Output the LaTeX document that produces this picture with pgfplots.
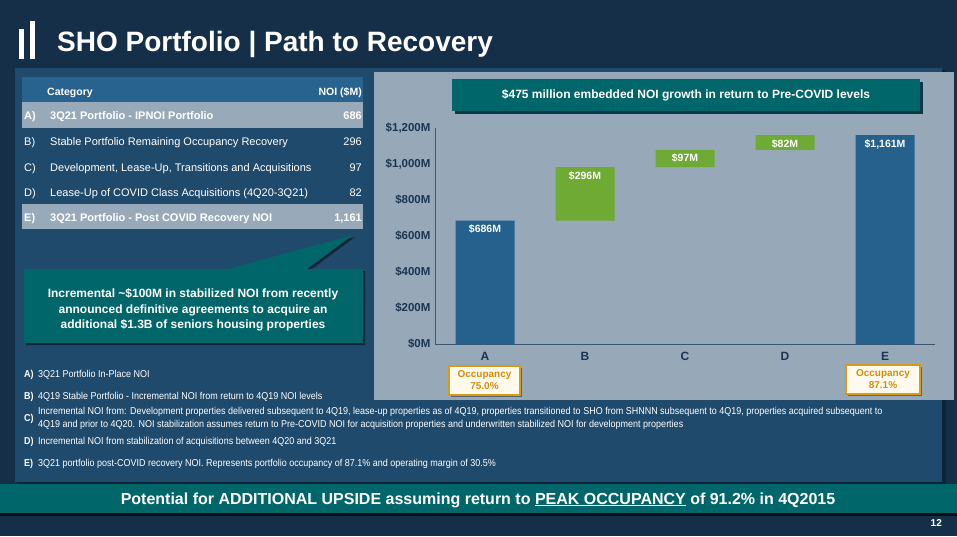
\documentclass[border=0pt]{standalone}
\usepackage{fontspec}
\setmainfont{Liberation Sans}
\newfontfamily\narrowfont[FakeStretch=0.9]{Liberation Sans}
\usepackage{pgfplots}
\pgfplotsset{compat=1.18}
\definecolor{slidebg}{RGB}{22,47,72}
\definecolor{panel}{RGB}{31,74,108}
\definecolor{panelshadow}{RGB}{16,36,56}
\definecolor{tablehead}{RGB}{40,98,143}
\definecolor{greyrow}{RGB}{152,170,186}
\definecolor{chartbg}{RGB}{151,169,184}
\definecolor{bluebar}{RGB}{38,97,141}
\definecolor{greenbar}{RGB}{110,170,52}
\definecolor{tealc}{RGB}{0,102,106}
\definecolor{axistext}{RGB}{27,52,80}
\definecolor{axisline}{RGB}{60,88,112}
\definecolor{gold}{RGB}{214,155,25}
\definecolor{goldtext}{RGB}{214,140,10}
\definecolor{cream}{RGB}{255,250,238}
\tikzset{barlab/.style={anchor=north, inner sep=0, yshift=-4pt, text=white, font=\fontsize{10.5}{12}\selectfont\bfseries}}
\begin{document}
\begin{tikzpicture}
\begin{scope}[x=1pt,y=1pt]
\useasboundingbox (0,0) rectangle (957,-536);
\fill[slidebg] (0,0) rectangle (957,-536);
% title
\fill[white] (19,-29) rectangle (24,-59);
\fill[white] (30,-21) rectangle (35,-59);
\node[anchor=base west, inner sep=0, text=white, font=\fontsize{28}{30}\selectfont\bfseries] at (57,-51) {SHO Portfolio | Path to Recovery};
% main panel
\fill[panelshadow] (17,-70) rectangle (946,-486);
\fill[panel] (15,-68) rectangle (942,-482);
% table
\fill[tablehead] (22,-77) rectangle (363,-102);
\fill[greyrow] (22,-102) rectangle (363,-128);
\fill[greyrow] (22,-204) rectangle (363,-229);
\begin{scope}[every node/.style={inner sep=0, text=white, font=\fontsize{11}{13}\selectfont}]
\node[anchor=base west, font=\fontsize{10.5}{13}\selectfont\bfseries] at (47,-95) {Category};
\node[anchor=base east, font=\fontsize{10.5}{13}\selectfont\bfseries] at (362,-95) {NOI (\$M)};
\node[anchor=base west, font=\fontsize{11}{13}\selectfont\bfseries] at (24,-119) {A)};
\node[anchor=base west, font=\fontsize{11}{13}\selectfont\bfseries] at (50,-119) {3Q21 Portfolio - IPNOI Portfolio};
\node[anchor=base east, font=\fontsize{11}{13}\selectfont\bfseries] at (362,-119) {686};
\node[anchor=base west] at (24,-145) {B)};
\node[anchor=base west] at (50,-145) {Stable Portfolio Remaining Occupancy Recovery};
\node[anchor=base east] at (362,-145) {296};
\node[anchor=base west] at (24,-171) {C)};
\node[anchor=base west] at (50,-171) {Development, Lease-Up, Transitions and Acquisitions};
\node[anchor=base east] at (362,-171) {97};
\node[anchor=base west] at (24,-196) {D)};
\node[anchor=base west] at (50,-196) {Lease-Up of COVID Class Acquisitions (4Q20-3Q21)};
\node[anchor=base east] at (362,-196) {82};
\node[anchor=base west, font=\fontsize{11}{13}\selectfont\bfseries] at (24,-221) {E)};
\node[anchor=base west, font=\fontsize{11}{13}\selectfont\bfseries] at (50,-221) {3Q21 Portfolio - Post COVID Recovery NOI};
\node[anchor=base east, font=\fontsize{11}{13}\selectfont\bfseries] at (362,-221) {1,161};
\end{scope}
% callout
\fill[panelshadow] (26,-271) -- (230,-271) -- (355,-237) -- (309,-271) -- (365,-271) -- (365,-345) -- (26,-345) -- cycle;
\fill[tealc] (24,-269) -- (228,-269) -- (353,-235) -- (307,-269) -- (363,-269) -- (363,-343) -- (24,-343) -- cycle;
\begin{scope}[every node/.style={inner sep=0, text=white, anchor=base, font=\fontsize{12}{14}\selectfont\bfseries}]
\node at (193,-297) {Incremental \textasciitilde\$100M in stabilized NOI from recently};
\node at (193,-313) {announced definitive agreements to acquire an};
\node at (193,-328) {additional \$1.3B of seniors housing properties};
\end{scope}
% chart panel
\fill[chartbg] (374,-72) rectangle (954,-400);
\fill[panelshadow!70!tealc] (455,-82) rectangle (923,-114);
\fill[tealc] (452,-79) rectangle (920,-111);
\node[inner sep=0, text=white, font=\fontsize{12}{14}\selectfont\bfseries] at (686,-95) {\$475 million embedded NOI growth in return to Pre-COVID levels};
% occupancy boxes
\fill[black!40!chartbg] (451,-368) rectangle (522,-397);
\filldraw[fill=cream, draw=gold, line width=1.5pt] (449,-366) rectangle (520,-395);
\node[inner sep=0, align=center, text=goldtext, font=\fontsize{10}{12}\selectfont\bfseries] at (484.5,-380.5) {Occupancy\\75.0\%};
\fill[black!40!chartbg] (848,-367) rectangle (922,-396);
\filldraw[fill=cream, draw=gold, line width=1.5pt] (846,-365) rectangle (920,-394);
\node[inner sep=0, align=center, text=goldtext, font=\fontsize{10}{12}\selectfont\bfseries] at (883,-379.5) {Occupancy\\87.1\%};
% footnotes
\begin{scope}[every node/.style={inner sep=0, anchor=base west, text=white, font=\narrowfont\fontsize{10}{12}\selectfont}]
\node[font=\narrowfont\fontsize{10}{12}\selectfont\bfseries] at (24,-377) {A)};
\node at (38,-377) {3Q21 Portfolio In-Place NOI};
\node[font=\narrowfont\fontsize{10}{12}\selectfont\bfseries] at (24,-399) {B)};
\node at (38,-399) {4Q19 Stable Portfolio - Incremental NOI from return to 4Q19 NOI levels};
\node[font=\narrowfont\fontsize{10}{12}\selectfont\bfseries] at (24,-421) {C)};
\node at (38,-414) {Incremental NOI from: Development properties delivered subsequent to 4Q19, lease-up properties as of 4Q19, properties transitioned to SHO from SHNNN subsequent to 4Q19, properties acquired subsequent to};
\node at (38,-427) {4Q19 and prior to 4Q20. NOI stabilization assumes return to Pre-COVID NOI for acquisition properties and underwritten stabilized NOI for development properties};
\node[font=\narrowfont\fontsize{10}{12}\selectfont\bfseries] at (24,-444) {D)};
\node at (38,-444) {Incremental NOI from stabilization of acquisitions between 4Q20 and 3Q21};
\node[font=\narrowfont\fontsize{10}{12}\selectfont\bfseries] at (24,-466) {E)};
\node at (38,-466) {3Q21 portfolio post-COVID recovery NOI. Represents portfolio occupancy of 87.1\% and operating margin of 30.5\%};
\end{scope}
% bottom banner
\fill[black!70!slidebg] (0,-486) rectangle (957,-516);
\fill[tealc] (0,-484) rectangle (957,-513);
\node[inner sep=0, anchor=base, text=white, font=\fontsize{16}{18}\selectfont\bfseries] at (478,-504) {Potential for ADDITIONAL UPSIDE assuming return to \underline{PEAK OCCUPANCY} of 91.2\% in 4Q2015};
\node[inner sep=0, anchor=base east, text=white, font=\fontsize{10}{12}\selectfont\bfseries] at (942,-526) {12};
\end{scope}
\begin{axis}[
  at={(435pt,-344pt)}, anchor=south west,
  scale only axis, width=500pt, height=216pt,
  xmin=-0.5, xmax=4.5, ymin=0, ymax=1200,
  axis x line=bottom, axis y line=left,
  axis line style={-, draw=axisline, line width=0.8pt},
  ybar stacked, bar width=59pt,
  xtick={0,1,2,3,4}, xticklabels={A,B,C,D,E},
  ytick={0,200,400,600,800,1000,1200},
  yticklabels={\$0M,\$200M,\$400M,\$600M,\$800M,{\$1,000M},{\$1,200M}},
  major tick length=0pt,
  xticklabel style={font=\fontsize{12}{14}\selectfont\bfseries, text=axistext, yshift=-5pt},
  yticklabel style={font=\fontsize{11.5}{14}\selectfont\bfseries, text=axistext, xshift=-1pt},
  clip=false,
]
\addplot[fill=none, draw=none] coordinates {(0,0) (1,686) (2,982) (3,1079) (4,0)};
\addplot[fill=bluebar, draw=none] coordinates {(0,686) (1,0) (2,0) (3,0) (4,1161)};
\addplot[fill=greenbar, draw=none] coordinates {(0,0) (1,296) (2,97) (3,82) (4,0)};
\coordinate (la) at (axis cs:0,686);
\coordinate (lb) at (axis cs:1,982);
\coordinate (lc) at (axis cs:2,1079);
\coordinate (ld) at (axis cs:3,1161);
\coordinate (le) at (axis cs:4,1161);
\end{axis}
\node[barlab] at (la) {\$686M};
\node[barlab] at (lb) {\$296M};
\node[barlab] at (lc) {\$97M};
\node[barlab] at (ld) {\$82M};
\node[barlab] at (le) {\$1,161M};
\end{tikzpicture}
\end{document}
